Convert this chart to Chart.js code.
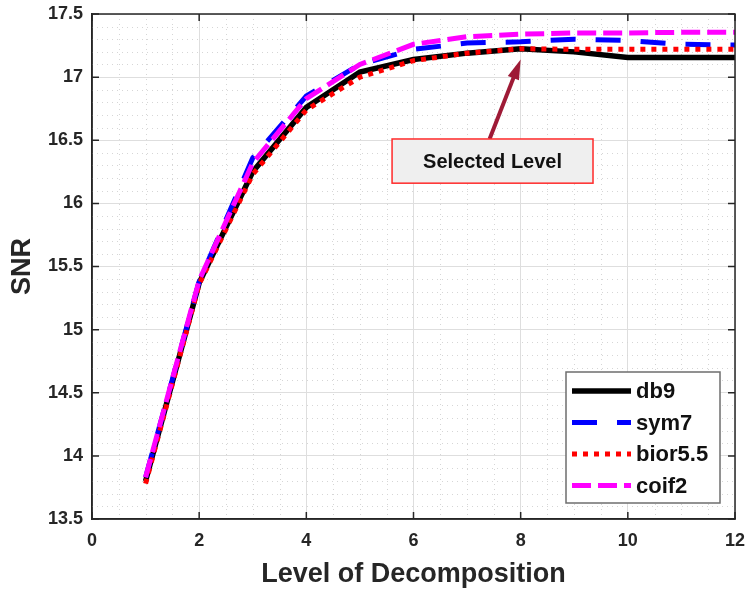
<!DOCTYPE html>
<html>
<head>
<meta charset="utf-8">
<script src="https://cdn.jsdelivr.net/npm/chart.js@4.4.0/dist/chart.umd.min.js"></script>
<style>
  body { margin: 0; background: #fff; }
  #wrap { width: 747px; height: 590px; }
</style>
</head>
<body>
<div id="wrap"><canvas id="snrChart" width="747" height="590"></canvas></div>
<script>
  // decomposition levels and SNR per wavelet
  const levels = [1, 2, 3, 4, 5, 6, 7, 8, 9, 10, 11, 12];
  const db9    = [13.80, 15.37, 16.25, 16.76, 17.04, 17.14, 17.19, 17.225, 17.20, 17.155, 17.155, 17.155];
  const sym7   = [13.83, 15.38, 16.36, 16.85, 17.10, 17.22, 17.27, 17.28, 17.30, 17.29, 17.26, 17.255];
  const bior55 = [13.78, 15.36, 16.23, 16.74, 17.00, 17.13, 17.19, 17.225, 17.22, 17.22, 17.22, 17.22];
  const coif2  = [13.83, 15.39, 16.32, 16.83, 17.10, 17.26, 17.32, 17.34, 17.35, 17.35, 17.355, 17.355];
  const seriesNames = ["db9", "sym7", "bior5.5", "coif2"];
  const xTicks = [0, 2, 4, 6, 8, 10, 12];
  const yTicks = [13.5, 14, 14.5, 15, 15.5, 16, 16.5, 17, 17.5];
  const selectedLevel = 8;

  const FONT = '"Liberation Sans", Arial, sans-serif';
  const toPts = arr => arr.map((v, i) => ({ x: levels[i], y: v }));

  const axesPlugin = {
    id: "axesPlugin",
    beforeDatasetsDraw(chart) {
      const { ctx, chartArea: a, scales: { x, y } } = chart;
      ctx.save();
      ctx.strokeStyle = "#d6d6d6";
      ctx.lineWidth = 1;
      ctx.setLineDash([1, 4]);
      for (let v = 0; v <= 12.001; v += 0.5) {
        if (Math.abs(v / 2 - Math.round(v / 2)) < 1e-6) continue;
        const px = Math.round(x.getPixelForValue(v)) + 0.5;
        ctx.beginPath(); ctx.moveTo(px, a.top); ctx.lineTo(px, a.bottom); ctx.stroke();
      }
      for (let k = 135; k <= 175; k++) {
        if (k % 5 === 0) continue;
        const py = Math.round(y.getPixelForValue(k / 10)) + 0.5;
        ctx.beginPath(); ctx.moveTo(a.left, py); ctx.lineTo(a.right, py); ctx.stroke();
      }
      ctx.restore();
    },
    afterDatasetsDraw(chart) {
      const { ctx, chartArea: a, scales: { x, y } } = chart;
      ctx.save();
      // box
      ctx.strokeStyle = "#262626";
      ctx.lineWidth = 1.5;
      ctx.strokeRect(a.left, a.top, a.right - a.left, a.bottom - a.top);
      // inward ticks
      ctx.beginPath();
      xTicks.forEach(v => {
        const px = x.getPixelForValue(v);
        ctx.moveTo(px, a.bottom); ctx.lineTo(px, a.bottom - 7);
        ctx.moveTo(px, a.top); ctx.lineTo(px, a.top + 7);
      });
      yTicks.forEach(v => {
        const py = y.getPixelForValue(v);
        ctx.moveTo(a.left, py); ctx.lineTo(a.left + 7, py);
        ctx.moveTo(a.right, py); ctx.lineTo(a.right - 7, py);
      });
      ctx.stroke();

      // arrow to the selected level
      const x0 = x.getPixelForValue(7.42), y0 = y.getPixelForValue(16.51);
      const x1 = x.getPixelForValue(selectedLevel), y1 = y.getPixelForValue(17.14);
      const ang = Math.atan2(y1 - y0, x1 - x0);
      ctx.strokeStyle = "#9e1a36";
      ctx.fillStyle = "#9e1a36";
      ctx.lineWidth = 4;
      ctx.beginPath();
      ctx.moveTo(x0, y0);
      ctx.lineTo(x1 - 12 * Math.cos(ang), y1 - 12 * Math.sin(ang));
      ctx.stroke();
      ctx.beginPath();
      ctx.moveTo(x1, y1);
      ctx.lineTo(x1 - 20 * Math.cos(ang) + 6 * Math.sin(ang), y1 - 20 * Math.sin(ang) - 6 * Math.cos(ang));
      ctx.lineTo(x1 - 20 * Math.cos(ang) - 6 * Math.sin(ang), y1 - 20 * Math.sin(ang) + 6 * Math.cos(ang));
      ctx.closePath();
      ctx.fill();

      // annotation box
      const bx0 = x.getPixelForValue(5.6), bx1 = x.getPixelForValue(9.35);
      const by0 = y.getPixelForValue(16.51), by1 = y.getPixelForValue(16.16);
      ctx.fillStyle = "#efefef";
      ctx.fillRect(bx0, by0, bx1 - bx0, by1 - by0);
      ctx.strokeStyle = "#ff2a2a";
      ctx.lineWidth = 1.5;
      ctx.strokeRect(bx0, by0, bx1 - bx0, by1 - by0);
      ctx.fillStyle = "#111";
      ctx.font = "bold 20px " + FONT;
      ctx.textAlign = "center";
      ctx.textBaseline = "middle";
      ctx.fillText("Selected Level", (bx0 + bx1) / 2, (by0 + by1) / 2 + 1);

      // legend
      const lx = 566, ly = 372, lw = 154, lh = 131;
      ctx.fillStyle = "#fff";
      ctx.fillRect(lx, ly, lw, lh);
      ctx.strokeStyle = "#6e6e6e";
      ctx.lineWidth = 1.5;
      ctx.strokeRect(lx, ly, lw, lh);
      ctx.textAlign = "left";
      ctx.font = "bold 22px " + FONT;
      chart.data.datasets.forEach((ds, i) => {
        const cy = 391 + i * 31.5;
        ctx.strokeStyle = ds.borderColor;
        ctx.lineWidth = ds.borderWidth;
        ctx.setLineDash(ds.borderDash || []);
        ctx.beginPath(); ctx.moveTo(572, cy); ctx.lineTo(631, cy); ctx.stroke();
        ctx.setLineDash([]);
        ctx.fillStyle = "#111";
        ctx.fillText(ds.label, 636, cy + 1);
      });

      // axis titles
      ctx.fillStyle = "#262626";
      ctx.font = "bold 27px " + FONT;
      ctx.textAlign = "center";
      ctx.fillText("Level of Decomposition", (a.left + a.right) / 2, 575);
      ctx.translate(23, (a.top + a.bottom) / 2);
      ctx.rotate(-Math.PI / 2);
      ctx.fillText("SNR", 0, 0);
      ctx.restore();
    }
  };

  new Chart(document.getElementById("snrChart"), {
    type: "line",
    data: {
      datasets: [
        { label: seriesNames[0], data: toPts(db9), borderColor: "#000000", borderWidth: 5.5, order: 3 },
        { label: seriesNames[1], data: toPts(sym7), borderColor: "#0000ff", borderWidth: 5, borderDash: [25, 20], order: 2 },
        { label: seriesNames[2], data: toPts(bior55), borderColor: "#ff0000", borderWidth: 5, borderDash: [5, 6], order: 1 },
        { label: seriesNames[3], data: toPts(coif2), borderColor: "#ff00ff", borderWidth: 5, borderDash: [19, 7], order: 0 }
      ]
    },
    options: {
      responsive: false,
      animation: false,
      devicePixelRatio: 1,
      layout: { padding: { top: 14, right: 12, left: 0, bottom: 0 } },
      elements: { point: { radius: 0 }, line: { tension: 0, fill: false, borderCapStyle: "butt" } },
      plugins: { legend: { display: false }, tooltip: { enabled: false } },
      scales: {
        x: {
          type: "linear", min: 0, max: 12,
          afterBuildTicks: s => { s.ticks = xTicks.map(v => ({ value: v })); },
          afterFit: s => { s.height = 71; s.paddingLeft = 0; s.paddingRight = 0; },
          ticks: { color: "#262626", padding: 11, font: { family: FONT, size: 18, weight: "bold" }, maxRotation: 0 },
          grid: { color: "#dedede", drawTicks: false },
          border: { color: "#262626", width: 1.5 }
        },
        y: {
          type: "linear", min: 13.5, max: 17.5,
          afterBuildTicks: s => { s.ticks = yTicks.map(v => ({ value: v })); },
          afterFit: s => { s.width = 92; s.paddingTop = 0; s.paddingBottom = 0; },
          ticks: { color: "#262626", padding: 9, font: { family: FONT, size: 18, weight: "bold" },
                   callback: v => String(v) },
          grid: { color: "#dedede", drawTicks: false },
          border: { color: "#262626", width: 1.5 }
        }
      }
    },
    plugins: [axesPlugin]
  });
</script>
</body>
</html>
